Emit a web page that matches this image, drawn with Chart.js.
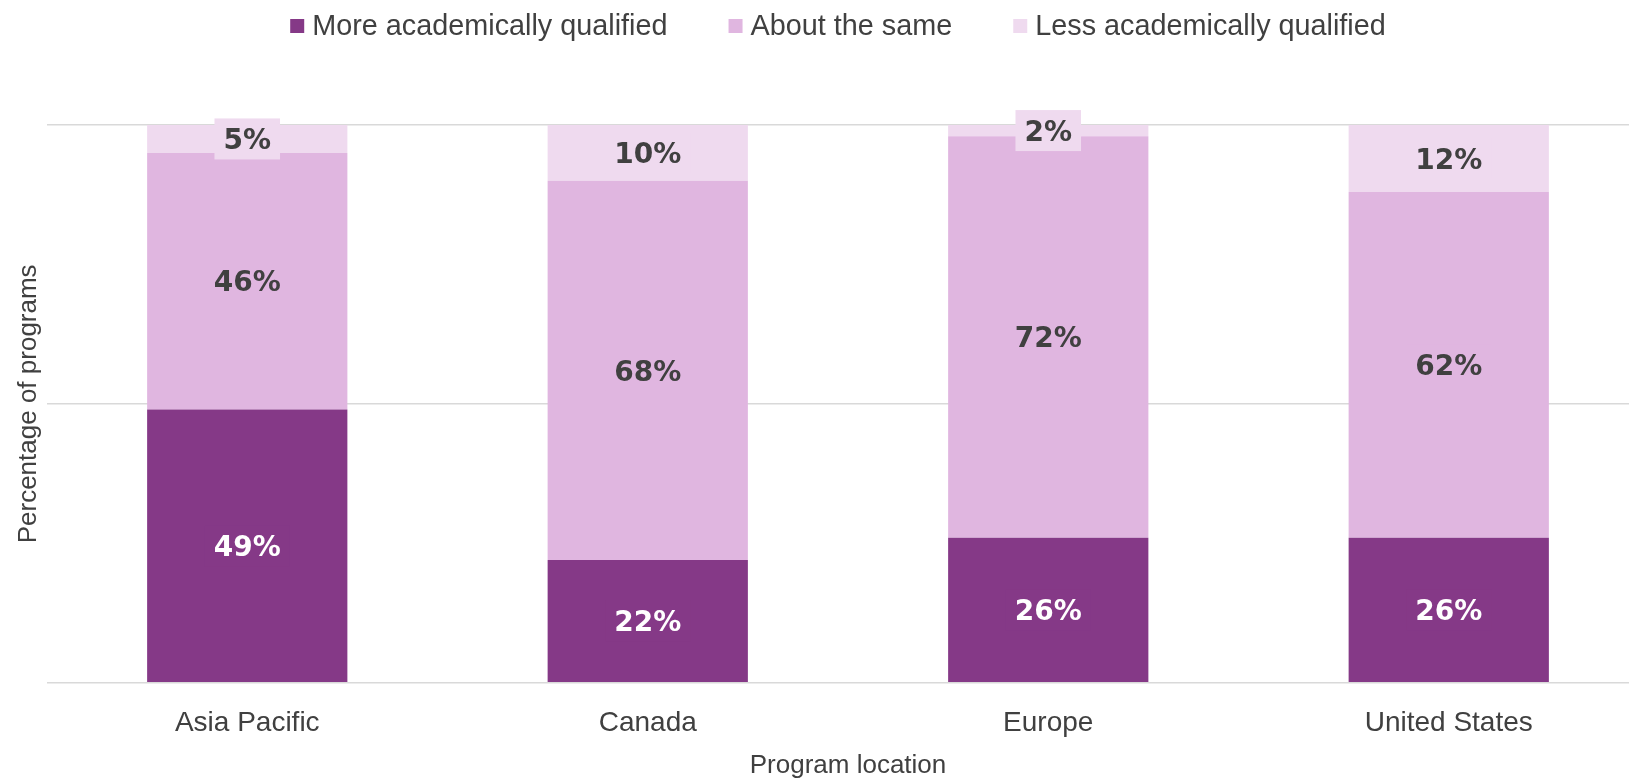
<!DOCTYPE html>
<html><head><meta charset="utf-8">
<script src="https://cdn.jsdelivr.net/npm/chart.js@4.4.1/dist/chart.umd.min.js"></script>
<style>html,body{margin:0;padding:0;background:#fff;overflow:hidden}#wrap{width:1650px;height:778px;position:relative}</style>
</head><body><div id="wrap"><canvas id="c"></canvas></div>
<script>
const categories = ['Asia Pacific', 'Canada', 'Europe', 'United States'];
const seriesNames = ['More academically qualified', 'About the same', 'Less academically qualified'];
const moreQualified = [49, 22, 26, 26];
const aboutSame = [46, 68, 72, 62];
const lessQualified = [5, 10, 2, 12];
const yTicks = [0, 50, 100];
const colors = ['#853987', '#E0B6E0', '#EFDAEF'];
const textColor = '#404040';

const labelPlugin = {
  id: 'segLabels',
  afterDatasetsDraw(chart) {
    const ctx = chart.ctx;
    ctx.save();
    ctx.font = 'bold 28px "DejaVu Sans"';
    ctx.textAlign = 'center';
    ctx.textBaseline = 'middle';
    chart.data.datasets.forEach((ds, di) => {
      const meta = chart.getDatasetMeta(di);
      meta.data.forEach((el, i) => {
        const txt = ds.data[i] + '%';
        const cx = el.x, cy = (el.y + el.base) / 2;
        const w = ctx.measureText(txt).width + 18, h = 41;
        ctx.fillStyle = ds.backgroundColor;
        ctx.fillRect(cx - w / 2, cy - h / 2, w, h);
        ctx.fillStyle = di === 0 ? '#ffffff' : textColor;
        ctx.fillText(txt, cx, cy + 3);
      });
    });
    ctx.restore();
  }
};

const legendPlugin = {
  id: 'topLegend',
  afterDraw(chart) {
    const ctx = chart.ctx;
    ctx.save();
    ctx.font = '28.8px "Liberation Sans"';
    ctx.textBaseline = 'middle';
    ctx.textAlign = 'left';
    const box = 14, gap = 8, itemGap = 61, cy = 26;
    const widths = seriesNames.map(n => ctx.measureText(n).width);
    const total = widths.reduce((a, b) => a + b, 0) + seriesNames.length * (box + gap) + (seriesNames.length - 1) * itemGap;
    const center = (chart.chartArea.left + chart.chartArea.right) / 2 - 10;
    let x = center - total / 2;
    seriesNames.forEach((n, k) => {
      ctx.fillStyle = colors[k];
      ctx.fillRect(x, cy - box / 2, box, box);
      x += box + gap;
      ctx.fillStyle = textColor;
      ctx.fillText(n, x, cy + 1);
      x += widths[k] + itemGap;
    });
    ctx.restore();
  }
};

const seriesData = [moreQualified, aboutSame, lessQualified];

new Chart(document.getElementById('c'), {
  type: 'bar',
  data: {
    labels: categories,
    datasets: seriesNames.map((n, k) => ({
      label: n,
      data: seriesData[k],
      backgroundColor: colors[k],
      borderWidth: 0,
      categoryPercentage: 1,
      barPercentage: 0.5
    }))
  },
  options: {
    responsive: true,
    maintainAspectRatio: false,
    animation: false,
    layout: { padding: { left: 9, right: 1, top: 125, bottom: 0 } },
    plugins: {
      tooltip: { enabled: false },
      legend: { display: false }
    },
    scales: {
      x: {
        stacked: true,
        afterFit(s) { s.height = 95.3; },
        grid: { display: false, drawTicks: false },
        border: { display: false },
        ticks: { color: textColor, font: { family: '"Liberation Sans"', size: 28 }, padding: 24 },
        title: { display: true, text: 'Program location', color: textColor, font: { family: '"Liberation Sans"', size: 26, lineHeight: 0.6 }, padding: { top: 0, bottom: 4 } }
      },
      y: {
        stacked: true,
        min: 0, max: 100,
        afterBuildTicks(s) { s.ticks = yTicks.map(v => ({ value: v })); },
        grid: { color: '#D9D9D9', lineWidth: 1.5, drawTicks: false },
        border: { display: false },
        ticks: { display: false },
        title: { display: true, text: 'Percentage of programs', color: textColor, font: { family: '"Liberation Sans"', size: 26 }, padding: { top: 4.4, bottom: 2.4 } }
      }
    }
  },
  plugins: [labelPlugin, legendPlugin]
});
</script>
</body></html>
